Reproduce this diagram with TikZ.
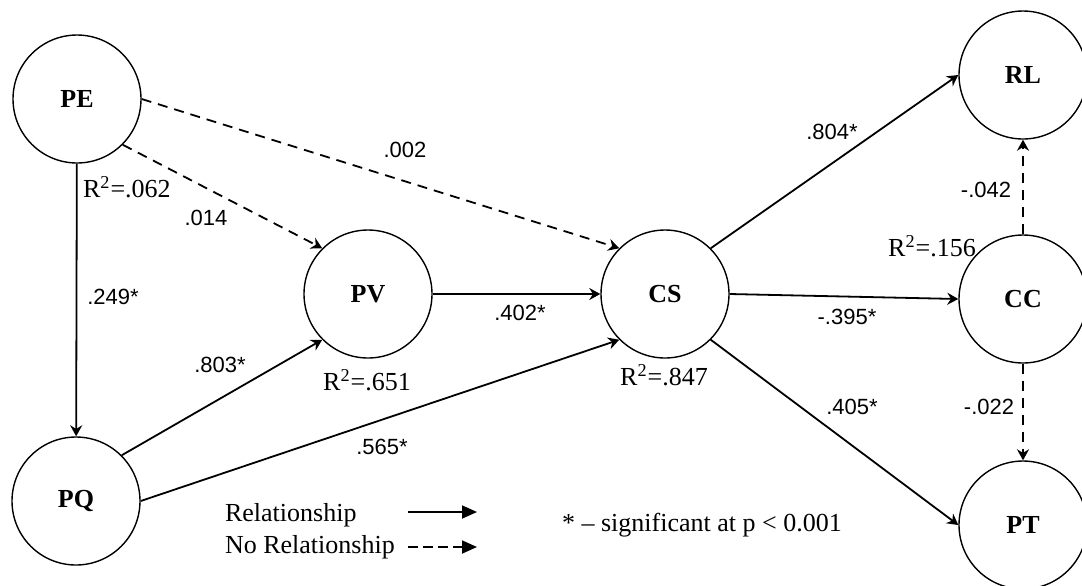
\documentclass[tikz,border=0pt]{standalone}
\usepackage{fontspec}
\setmainfont{Liberation Serif}
\newfontfamily\coeffont{Liberation Sans}
\usetikzlibrary{arrows.meta}

\begin{document}
\begin{tikzpicture}[x=0.5pt,y=-0.5pt,
  construct/.style={circle,draw,line width=0.7pt,minimum size=64pt,inner sep=0pt,
    font=\fontsize{13}{15}\selectfont\bfseries},
  rel/.style={line width=0.9pt,-{Stealth[length=5.5pt,width=6pt,inset=1.8pt]}},
  norel/.style={rel,dash pattern=on 5pt off 3.5pt},
  keyrel/.style={line width=0.9pt,-{Triangle[length=7.5pt,width=6.5pt]}},
  coef/.style={font=\fontsize{11}{13}\selectfont\coeffont},
  rsq/.style={font=\fontsize{13}{15}\selectfont}]
  \useasboundingbox (0,0) rectangle (1082,585);
  % constructs
  \node[construct] (PE) at (77,99) {PE};
  \node[construct] (PQ) at (76,501) {PQ};
  \node[construct] (PV) at (368,294) {PV};
  \node[construct] (CS) at (665,294) {CS};
  \node[construct] (RL) at (1023,75) {RL};
  \node[construct] (CC) at (1023,299) {CC};
  \node[construct] (PT) at (1023,525) {PT};
  % paths
  \draw[rel] (PE) -- (PQ);
  \draw[norel] (PE.-45) -- (PV.135);
  \draw[norel] (PE.east) -- (CS.135);
  \draw[rel] (PQ.45) -- (PV.225);
  \draw[rel] (PQ.east) -- (CS.225);
  \draw[rel] (PV) -- (CS);
  \draw[rel] (CS.45) -- (RL.west);
  \draw[rel] (CS.east) -- (CC.west);
  \draw[rel] (CS.-45) -- (PT.west);
  \draw[norel] (CC) -- (RL);
  \draw[norel] (CC) -- (PT);
  % coefficients
  \node[coef] (c1) at (113,297) {.249*};
  \node[coef] (c2) at (206,218) {.014};
  \node[coef] (c3) at (405,150) {.002};
  \node[coef] (c4) at (220,365) {.803*};
  \node[coef] (c5) at (382,447) {.565*};
  \node[coef] (c6) at (520,313) {.402*};
  \node[coef] (c7) at (832,132) {.804*};
  \node[coef] (c8) at (847,317) {-.395*};
  \node[coef] (c9) at (852,407) {.405*};
  \node[coef] (c10) at (986,190) {-.042};
  \node[coef] (c11) at (989,407) {-.022};
  % R squared
  \node[rsq,anchor=west] (r1) at (76,187) {R\textsuperscript{2}=.062};
  \node[rsq] (r2) at (367,380) {R\textsuperscript{2}=.651};
  \node[rsq] (r3) at (664,375) {R\textsuperscript{2}=.847};
  \node[rsq] (r4) at (932,246) {R\textsuperscript{2}=.156};
  % key
  \node[rsq,anchor=west] (k1) at (218,515) {Relationship};
  \node[rsq,anchor=west] (k2) at (218,547) {No Relationship};
  \coordinate (a1) at (408,512);
  \coordinate (b1) at (477,512);
  \coordinate (a2) at (408,547);
  \coordinate (b2) at (477,547);
  \draw[keyrel] (a1) -- (b1);
  \draw[keyrel,dash pattern=on 5pt off 2.5pt] (a2) -- (b2);
  \node[rsq,anchor=west] (sig) at (555,525) {* – significant at p < 0.001};
\end{tikzpicture}
\end{document}
